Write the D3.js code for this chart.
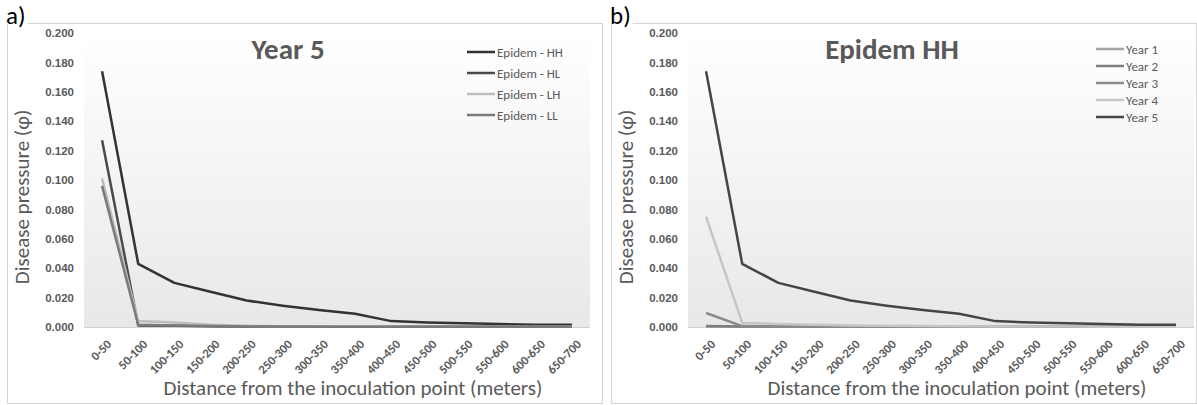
<!DOCTYPE html>
<html>
<head>
<meta charset="utf-8">
<script src="https://cdn.jsdelivr.net/npm/d3@7"></script>
<style>
  body { margin: 0; background: #fff; }
  svg { display: block; font-family: Carlito, Calibri, Lato, sans-serif; }
</style>
</head>
<body>
<svg width="1197" height="405"></svg>
<script>
// distance classes on the x axis
var categories = ["0-50", "50-100", "100-150", "150-200", "200-250", "250-300", "300-350",
  "350-400", "400-450", "450-500", "500-550", "550-600", "600-650", "650-700"];
var yTickValues = [0, 0.02, 0.04, 0.06, 0.08, 0.1, 0.12, 0.14, 0.16, 0.18, 0.2];

// panel a) Year 5
var hhValues = [0.174, 0.043, 0.030, 0.024, 0.018, 0.0145, 0.0115, 0.009, 0.004, 0.003, 0.0025, 0.002, 0.0015, 0.0015];
var hlValues = [0.127, 0.001, 0.0008, 0.0005, 0.0004, 0.0003, 0.0003, 0.0002, 0.0002, 0.0002, 0.0001, 0.0001, 0.0001, 0.0001];
var lhValues = [0.101, 0.004, 0.003, 0.0015, 0.0008, 0.0005, 0.0004, 0.0003, 0.0002, 0.0002, 0.0001, 0.0001, 0.0001, 0.0001];
var llValues = [0.096, 0.0015, 0.001, 0.0006, 0.0004, 0.0003, 0.0002, 0.0002, 0.0001, 0.0001, 0.0001, 0.0001, 0.0001, 0.0001];

// panel b) Epidem HH
var year1Values = [0.0004, 0.0003, 0.0002, 0.0002, 0.0001, 0.0001, 0.0001, 0.0001, 0.0001, 0.0001, 0.0001, 0.0001, 0.0001, 0.0001];
var year2Values = [0.0006, 0.0004, 0.0003, 0.0002, 0.0002, 0.0001, 0.0001, 0.0001, 0.0001, 0.0001, 0.0001, 0.0001, 0.0001, 0.0001];
var year3Values = [0.0095, 0.0006, 0.0004, 0.0003, 0.0002, 0.0002, 0.0001, 0.0001, 0.0001, 0.0001, 0.0001, 0.0001, 0.0001, 0.0001];
var year4Values = [0.075, 0.0028, 0.002, 0.0015, 0.001, 0.0008, 0.0006, 0.0005, 0.0004, 0.0003, 0.0003, 0.0002, 0.0002, 0.0002];
var year5Values = [0.174, 0.043, 0.030, 0.024, 0.018, 0.0145, 0.0115, 0.009, 0.004, 0.003, 0.0025, 0.002, 0.0015, 0.0015];

var panelA = {
  tag: "a)", title: "Year 5", left: 7, width: 596,
  legendX: 467, legendY: 52, legendStep: 21,
  series: [
    { name: "Epidem - HH", values: hhValues, color: "#333333" },
    { name: "Epidem - HL", values: hlValues, color: "#4a4a4a" },
    { name: "Epidem - LH", values: lhValues, color: "#bdbdbd" },
    { name: "Epidem - LL", values: llValues, color: "#7a7a7a" }
  ]
};
var panelB = {
  tag: "b)", title: "Epidem HH", left: 611, width: 586,
  legendX: 1096, legendY: 49, legendStep: 17,
  series: [
    { name: "Year 1", values: year1Values, color: "#a3a3a3" },
    { name: "Year 2", values: year2Values, color: "#7d7d7d" },
    { name: "Year 3", values: year3Values, color: "#8a8a8a" },
    { name: "Year 4", values: year4Values, color: "#c6c6c6" },
    { name: "Year 5", values: year5Values, color: "#454545" }
  ]
};

var svg = d3.select("svg");
var defs = svg.append("defs");
var grad = defs.append("linearGradient").attr("id", "plotBg")
  .attr("x1", 0).attr("y1", 0).attr("x2", 0).attr("y2", 1);
grad.append("stop").attr("offset", "0%").attr("stop-color", "#ffffff");
grad.append("stop").attr("offset", "100%").attr("stop-color", "#e8e8e8");

var panelTop = 23, panelH = 380;
var plotTop = 33, plotBottom = 327, plotOffset = 77, plotW = 506;
var textColor = "#595959";

function drawPanel(p) {
  var g = svg.append("g");

  g.append("rect").attr("x", p.left + 0.5).attr("y", panelTop + 0.5)
    .attr("width", p.width - 1).attr("height", panelH)
    .attr("fill", "#fff").attr("stroke", "#d4d4d4");

  var x0 = p.left + plotOffset;
  var x = d3.scalePoint().domain(categories).range([x0, x0 + plotW]).padding(0.5);
  var y = d3.scaleLinear().domain([0, 0.2]).range([plotBottom, plotTop]);

  g.append("rect").attr("x", x0).attr("y", plotTop)
    .attr("width", plotW).attr("height", plotBottom - plotTop)
    .attr("fill", "url(#plotBg)");
  g.append("line").attr("x1", x0).attr("x2", x0 + plotW)
    .attr("y1", plotBottom + 0.5).attr("y2", plotBottom + 0.5)
    .attr("stroke", "#d0d0d0");

  var yAxis = g.append("g").attr("transform", "translate(" + (x0 - 10) + ",0)")
    .call(d3.axisLeft(y).tickValues(yTickValues).tickFormat(d3.format(".3f")).tickSize(0).tickPadding(0));
  yAxis.select(".domain").remove();
  yAxis.selectAll("text").attr("fill", textColor).style("font-size", "11.5px").style("font-weight", "bold");

  g.selectAll(".xlab").data(categories).enter().append("text")
    .attr("class", "xlab")
    .attr("transform", function (d) { return "translate(" + (x(d) + 7) + "," + (plotBottom + 15) + ") rotate(-45)"; })
    .attr("text-anchor", "end").attr("dy", "0.35em")
    .attr("fill", textColor).style("font-size", "12.5px").style("font-weight", "bold")
    .text(function (d) { return d; });

  var line = d3.line().x(function (d, i) { return x(categories[i]); }).y(function (d) { return y(d); });
  g.selectAll(".series").data(p.series).enter().append("path")
    .attr("class", "series")
    .attr("d", function (d) { return line(d.values); })
    .attr("fill", "none").attr("stroke", function (d) { return d.color; })
    .attr("stroke-width", 2.5).attr("stroke-linejoin", "round");

  // legend
  var lg = g.selectAll(".lg").data(p.series).enter().append("g")
    .attr("transform", function (d, i) { return "translate(" + p.legendX + "," + (p.legendY + i * p.legendStep) + ")"; });
  lg.append("line").attr("x1", 0).attr("x2", 28).attr("stroke", function (d) { return d.color; }).attr("stroke-width", 2.5);
  lg.append("text").attr("x", 30).attr("dy", "0.35em").attr("fill", textColor)
    .style("font-size", "13px").text(function (d) { return d.name; });

  g.append("text").attr("x", x0 + 204).attr("y", 59).attr("text-anchor", "middle")
    .attr("fill", textColor).style("font-size", "29px").style("font-weight", "bold").text(p.title);

  g.append("text").attr("transform", "translate(" + (p.left + 22) + ",197) rotate(-90)")
    .attr("text-anchor", "middle").attr("fill", textColor).style("font-size", "21px")
    .text("Disease pressure (\u03c6)");

  g.append("text").attr("x", p.left + 346).attr("y", 395).attr("text-anchor", "middle")
    .attr("fill", textColor).style("font-size", "21px")
    .text("Distance from the inoculation point (meters)");

  var tag = g.append("text").attr("x", p.left - 1).attr("y", 24).attr("fill", "#000")
    .style("font-size", "25px").text(p.tag);
  var bb = tag.node().getBBox();
  g.insert("rect", function () { return tag.node(); })
    .attr("x", bb.x - 1).attr("y", 0)
    .attr("width", bb.width + 3).attr("height", panelTop + 1).attr("fill", "#fff");
}

drawPanel(panelA);
drawPanel(panelB);
</script>
</body>
</html>
